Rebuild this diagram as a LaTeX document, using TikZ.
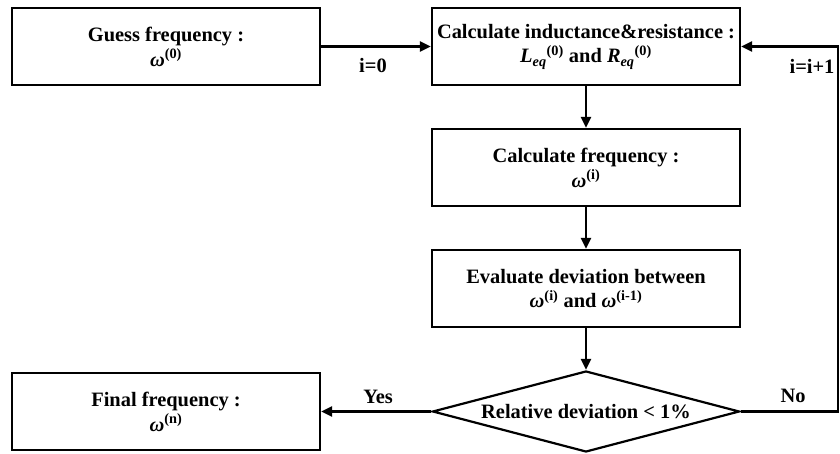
\documentclass[tikz,border=0pt]{standalone}
\usepackage{fontspec}
\setmainfont{Liberation Serif}
\usetikzlibrary{shapes.geometric,arrows.meta}
\newcommand{\om}[1]{{\itshape ω}\textsuperscript{(#1)}}
\tikzset{
  stepbox/.style={draw,line width=2.2bp,minimum width=308bp,minimum height=77bp,
    inner sep=0pt,align=center,font=\fontsize{20.5}{25}\selectfont\bfseries},
  testbox/.style={draw,diamond,aspect=3.8,line width=2.2bp,minimum width=307bp,
    minimum height=81bp,inner sep=0pt,font=\fontsize{20.5}{25}\selectfont\bfseries},
  flow/.style={line width=2.2bp,-{Triangle[length=11bp,width=10bp]}},
  tag/.style={font=\fontsize{20.5}{25}\selectfont\bfseries,inner sep=0pt}
}
\begin{document}
\begin{tikzpicture}[x=1bp,y=-1bp]
\useasboundingbox (0,0) rectangle (840,454);
\pgfmathsetmacro{\kxl}{166}
\pgfmathsetmacro{\kxr}{586}
% boxes
\node[stepbox](guess) at (\kxl,46.5) {Guess frequency :\\\om{0}};
\node[stepbox](calclr) at (\kxr,46.5) {Calculate inductance\&resistance :\\
  {\itshape L}\textsubscript{\itshape eq}\textsuperscript{(0)} and
  {\itshape R}\textsubscript{\itshape eq}\textsuperscript{(0)}};
\node[stepbox](calcw) at (\kxr,167.5) {Calculate frequency :\\\om{i}};
\node[stepbox](evdev) at (\kxr,288.5) {Evaluate deviation between\\\om{i} and \om{i-1}};
\node[testbox](check) at (\kxr,411.5) {Relative deviation < 1\%};
\node[stepbox](final) at (\kxl,411.5) {Final frequency :\\\om{n}};
\coordinate (nobend) at (838,411.5);
% connectors
\draw[flow] (guess.east) -- (calclr.west);
\draw[flow] (calclr) -- (calcw);
\draw[flow] (calcw) -- (evdev);
\draw[flow] (evdev) -- (check);
\draw[flow] (check.west) -- (final.east);
\draw[flow] (check.east) -- (nobend) |- (calclr.east);
% labels
\node[tag](lzero) at (373,66) {i=0};
\node[tag](lnext) at (812,66) {i=i+1};
\node[tag](lno) at (793,396) {No};
\node[tag](lyes) at (378,397) {Yes};
\end{tikzpicture}
\end{document}
